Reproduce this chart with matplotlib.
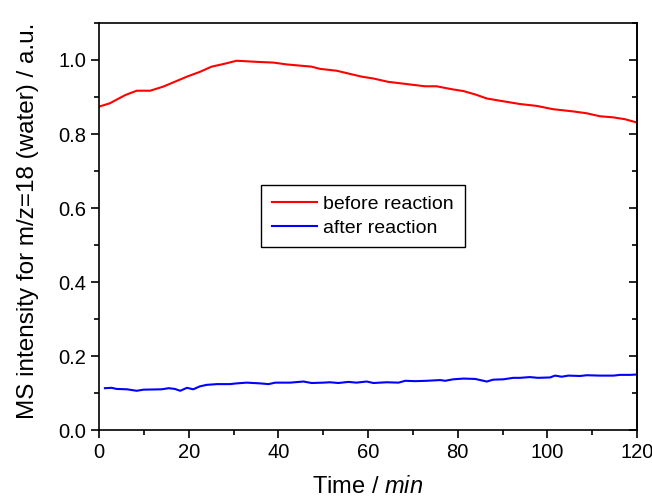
import matplotlib
matplotlib.use("Agg")
import matplotlib.pyplot as plt
from matplotlib.ticker import MultipleLocator

plt.rcParams['font.family'] = ['Liberation Sans', 'DejaVu Sans']
plt.rcParams['mathtext.fontset'] = 'custom'
plt.rcParams['mathtext.rm'] = 'Liberation Sans'
plt.rcParams['mathtext.it'] = 'Liberation Sans:italic'

# before reaction (red)
t_before = [0, 2.4, 5.8, 8.4, 11.4, 14.3, 19.6, 22.5, 25.1, 27.7, 30.7, 35.2, 38.9,
            41.9, 47.4, 49.3, 53.0, 58.6, 61.2, 64.5, 68.6, 72.7, 75.3, 78.7, 81.3,
            83.9, 86.5, 89.4, 93.9, 97.6, 101.3, 105.8, 108.8, 111.7, 114.7, 117.3, 120]
ms_before = [0.874, 0.883, 0.905, 0.917, 0.917, 0.928, 0.955, 0.968, 0.982, 0.989, 0.998,
             0.995, 0.993, 0.988, 0.982, 0.976, 0.971, 0.955, 0.950, 0.941, 0.935, 0.929,
             0.929, 0.921, 0.916, 0.907, 0.896, 0.890, 0.881, 0.876, 0.867, 0.861, 0.856,
             0.848, 0.845, 0.840, 0.831]

# after reaction (blue)
t_after = [1.3, 2.8, 3.9, 6.2, 8.4, 9.9, 14.0, 15.5, 16.9, 18.1, 19.6, 21.0, 22.5, 24.0,
           26.3, 29.2, 30.7, 32.9, 35.9, 37.8, 39.3, 42.6, 45.6, 47.4, 50.0, 51.5, 53.4,
           55.6, 57.4, 59.7, 61.2, 64.2, 66.8, 68.3, 70.5, 73.1, 76.1, 77.2, 79.0, 81.3,
           83.9, 86.5, 87.9, 90.2, 92.4, 93.9, 96.1, 97.9, 100.6, 101.7, 103.2, 104.7,
           107.3, 108.8, 111.8, 114.8, 116.2, 118.5, 120]
ms_after = [0.113, 0.114, 0.111, 0.110, 0.106, 0.109, 0.110, 0.113, 0.111, 0.106, 0.114,
            0.110, 0.118, 0.122, 0.124, 0.124, 0.126, 0.128, 0.126, 0.124, 0.128, 0.128,
            0.131, 0.127, 0.128, 0.129, 0.127, 0.130, 0.128, 0.131, 0.127, 0.129, 0.128,
            0.133, 0.132, 0.133, 0.135, 0.133, 0.137, 0.139, 0.138, 0.131, 0.136, 0.137,
            0.141, 0.141, 0.143, 0.141, 0.142, 0.147, 0.144, 0.147, 0.146, 0.148, 0.147,
            0.147, 0.149, 0.149, 0.150]


def draw_plot(out_file='out.png'):
    fig = plt.figure(figsize=(6.52, 5.0), dpi=100)
    ax = fig.add_axes([0.152, 0.14, 0.825, 0.814])

    ax.plot(t_before, ms_before, color='#ff0000', linewidth=1.5, label='before reaction')
    ax.plot(t_after, ms_after, color='#0000ff', linewidth=1.5, label='after reaction')

    ax.set_xlim(0, 120)
    ax.set_ylim(0, 1.1)
    ax.xaxis.set_major_locator(MultipleLocator(20))
    ax.xaxis.set_minor_locator(MultipleLocator(10))
    ax.yaxis.set_major_locator(MultipleLocator(0.2))
    ax.yaxis.set_minor_locator(MultipleLocator(0.1))
    ax.yaxis.set_major_formatter(plt.FormatStrFormatter('%.1f'))

    for s in ax.spines.values():
        s.set_linewidth(1.2)
    ax.tick_params(which='both', direction='out', width=1.2, labelsize=14.5,
                   top=False, right=False, pad=4)
    ax.tick_params(which='major', length=5.5)
    ax.tick_params(which='minor', length=3.5)
    # right side ticks point inward
    sec = ax.secondary_yaxis('right')
    sec.yaxis.set_major_locator(MultipleLocator(0.2))
    sec.yaxis.set_minor_locator(MultipleLocator(0.1))
    sec.tick_params(which='both', direction='in', width=1.2, labelright=False)
    sec.tick_params(which='major', length=5.5)
    sec.tick_params(which='minor', length=3.5)
    sec.spines['right'].set_linewidth(1.2)

    ax.set_xlabel('Time / $\\it{min}$', fontsize=17)
    ax.set_ylabel('MS intensity for m/z=18 (water) / a.u.', fontsize=17.5)
    ax.xaxis.set_label_coords(0.5, -0.113)
    ax.yaxis.set_label_coords(-0.112, 0.515)

    leg = ax.legend(loc='upper left', bbox_to_anchor=(0.301, 0.602), borderaxespad=0,
                    fontsize=14, fancybox=False, framealpha=1, edgecolor='black',
                    handlelength=2.35, handletextpad=0.3, borderpad=0.55, labelspacing=0.3)
    leg.get_frame().set_linewidth(1.0)

    fig.savefig(out_file, dpi=100)


if __name__ == '__main__':
    draw_plot()
